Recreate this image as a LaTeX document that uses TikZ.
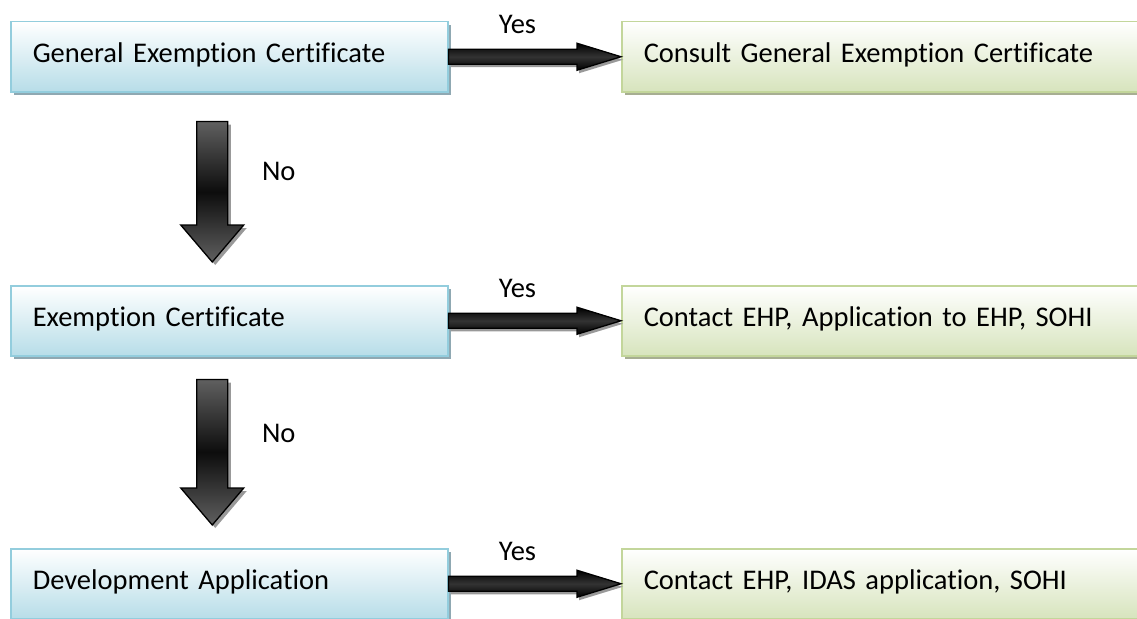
\documentclass[tikz,border=0pt]{standalone}
\usepackage{fontspec}
\setmainfont{Carlito}[Ligatures=NoCommon]
\usetikzlibrary{calc,shadows}

\definecolor{qline}{HTML}{93CDDD}
\definecolor{qfill}{HTML}{B7DDE8}
\definecolor{qshadow}{HTML}{8FA8B2}
\definecolor{aline}{HTML}{C3D69B}
\definecolor{afill}{HTML}{D7E4BD}
\definecolor{ashadow}{HTML}{A7AE92}

\begin{document}
\begin{tikzpicture}[x=1pt,y=-1pt,
  every node/.style={font=\fontsize{28.5}{34}\selectfont},
  qbox/.style={draw=qline, line width=1.5pt, top color=white, bottom color=qfill,
    anchor=north west, align=left, text width=393pt, inner xsep=22pt, inner ysep=0pt,
    text height=41pt, text depth=29pt,
    drop shadow={shadow xshift=3pt, shadow yshift=-3pt, fill=qshadow, opacity=1}},
  abox/.style={qbox, draw=aline, bottom color=afill, text width=486pt,
    drop shadow={shadow xshift=3pt, shadow yshift=-3pt, fill=ashadow, opacity=1}},
  harrow/.style={draw=black, line width=1.3pt, top color=black, bottom color=black,
    middle color=black!80,
    drop shadow={shadow xshift=2pt, shadow yshift=-3pt, fill=gray!80, opacity=1}},
  varrow/.style={draw=black, line width=1.3pt, top color=gray!75!black,
    bottom color=gray!75!black, middle color=black!95,
    drop shadow={shadow xshift=3pt, shadow yshift=-3pt, fill=gray!80, opacity=1}}]
\clip (0,0) rectangle (1137,618);

% questions
\node[qbox] (gec) at (10,21) {General Exemption Certificate};
\node[qbox] (ec) at (10,285) {Exemption Certificate};
\node[qbox] (da) at (10,548) {Development Application};

% answers
\node[abox] (cgec) at (621,21) {Consult General Exemption Certificate};
\node[abox] (cec) at (621,285) {Contact EHP, Application to EHP, SOHI};
\node[abox] (cda) at (621,548) {Contact EHP, IDAS application, SOHI};

% yes arrows
\draw[harrow] ($(gec.east)+(0,-7.5)$) -- ($(cgec.west)+(-44,-7.5)$) -- ($(cgec.west)+(-44,-13.5)$)
  -- (cgec.west) -- ($(cgec.west)+(-44,13.5)$) -- ($(cgec.west)+(-44,7.5)$) -- ($(gec.east)+(0,7.5)$) -- cycle;
\draw[harrow] ($(ec.east)+(0,-7.5)$) -- ($(cec.west)+(-44,-7.5)$) -- ($(cec.west)+(-44,-13.5)$)
  -- (cec.west) -- ($(cec.west)+(-44,13.5)$) -- ($(cec.west)+(-44,7.5)$) -- ($(ec.east)+(0,7.5)$) -- cycle;
\draw[harrow] ($(da.east)+(0,-7.5)$) -- ($(cda.west)+(-44,-7.5)$) -- ($(cda.west)+(-44,-13.5)$)
  -- (cda.west) -- ($(cda.west)+(-44,13.5)$) -- ($(cda.west)+(-44,7.5)$) -- ($(da.east)+(0,7.5)$) -- cycle;
\node (yes1) at ($(gec.east)!0.4!(cgec.west)+(0,-32)$) {Yes};
\node (yes2) at ($(ec.east)!0.4!(cec.west)+(0,-32)$) {Yes};
\node (yes3) at ($(da.east)!0.4!(cda.west)+(0,-32)$) {Yes};

% no arrows
\coordinate (t1) at ($(gec.south)+(-17,29)$);
\coordinate (h1) at ($(ec.north)+(-17,-23)$);
\coordinate (t2) at ($(ec.south)+(-17,23)$);
\coordinate (h2) at ($(da.north)+(-17,-23)$);
\draw[varrow] ($(t1)+(-15.5,0)$) -- ($(h1)+(-15.5,-37)$) -- ($(h1)+(-31.5,-37)$) -- (h1)
  -- ($(h1)+(31.5,-37)$) -- ($(h1)+(15.5,-37)$) -- ($(t1)+(15.5,0)$) -- cycle;
\draw[varrow] ($(t2)+(-15.5,0)$) -- ($(h2)+(-15.5,-37)$) -- ($(h2)+(-31.5,-37)$) -- (h2)
  -- ($(h2)+(31.5,-37)$) -- ($(h2)+(15.5,-37)$) -- ($(t2)+(15.5,0)$) -- cycle;
\node (no1) at ($(t1)+(66.5,50)$) {No};
\node (no2) at ($(t2)+(66.5,54)$) {No};
\end{tikzpicture}
\end{document}
